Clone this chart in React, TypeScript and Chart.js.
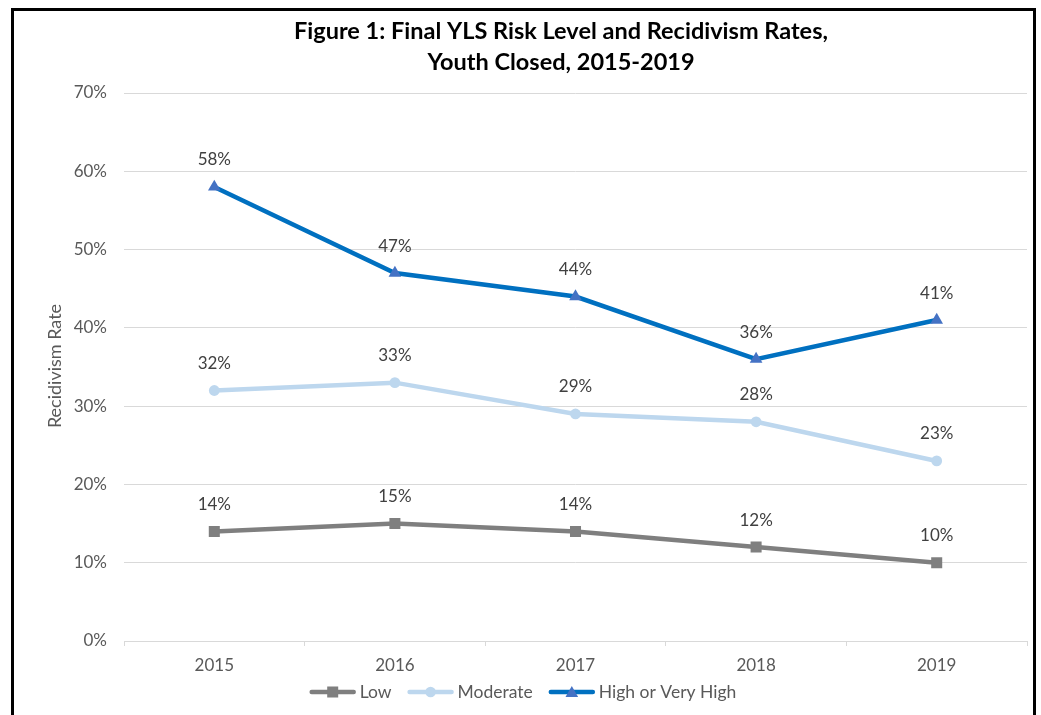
import React, { useEffect, useRef } from "react";
import { Chart, registerables } from "chart.js";

Chart.register(...registerables);

const years = ["2015", "2016", "2017", "2018", "2019"];
const lowValues = [14, 15, 14, 12, 10];
const moderateValues = [32, 33, 29, 28, 23];
const highValues = [58, 47, 44, 36, 41];
const yTicks = [0, 10, 20, 30, 40, 50, 60, 70];
const titleLines = ["Figure 1: Final YLS Risk Level and Recidivism Rates,", "Youth Closed, 2015-2019"];
const yTitle = "Recidivism Rate";

const FONT = "Lato, 'Open Sans', sans-serif";

const framePlugin = {
  id: "frame",
  beforeDraw(chart: any) {
    const ctx = chart.ctx;
    ctx.save();
    ctx.fillStyle = "#ffffff";
    ctx.fillRect(0, 0, chart.width, chart.height);
    ctx.strokeStyle = "#000000";
    ctx.lineWidth = 3;
    ctx.strokeRect(12.5, 9.5, 1022, 720);
    ctx.restore();
  },
  afterDraw(chart: any) {
    const ctx = chart.ctx;
    ctx.save();
    // title
    ctx.fillStyle = "#000000";
    ctx.font = `bold 23.5px ${FONT}`;
    ctx.textAlign = "center";
    ctx.textBaseline = "middle";
    ctx.fillText(titleLines[0], 561, 31);
    ctx.fillText(titleLines[1], 561, 62);
    // y title
    ctx.save();
    ctx.translate(55, 366);
    ctx.rotate(-Math.PI / 2);
    ctx.fillStyle = "#595959";
    ctx.font = `18px ${FONT}`;
    ctx.fillText(yTitle, 0, 0);
    ctx.restore();
    // legend
    const items = chart.data.datasets.map((d: any) => d);
    ctx.font = `17.5px ${FONT}`;
    const sample = 46;
    const gapText = 4;
    const gapItem = 16;
    let total = 0;
    const widths = items.map((d: any) => ctx.measureText(d.label).width);
    widths.forEach((w: number, i: number) => {
      total += sample + gapText + w + (i < widths.length - 1 ? gapItem : 0);
    });
    let x = 523 - total / 2;
    const y = 692;
    items.forEach((d: any, i: number) => {
      ctx.strokeStyle = d.borderColor;
      ctx.lineWidth = d.borderWidth;
      ctx.lineCap = "round";
      ctx.beginPath();
      ctx.moveTo(x + 2, y);
      ctx.lineTo(x + sample - 2, y);
      ctx.stroke();
      ctx.fillStyle = d.pointBackgroundColor;
      const cx = x + sample / 2;
      if (d.pointStyle === "rect") {
        ctx.fillRect(cx - 5.5, y - 5.5, 11, 11);
      } else if (d.pointStyle === "circle") {
        ctx.beginPath();
        ctx.arc(cx, y, 5.3, 0, Math.PI * 2);
        ctx.fill();
      } else {
        ctx.beginPath();
        ctx.moveTo(cx, y - 6);
        ctx.lineTo(cx + 6.3, y + 5);
        ctx.lineTo(cx - 6.3, y + 5);
        ctx.closePath();
        ctx.fill();
      }
      ctx.fillStyle = "#595959";
      ctx.textAlign = "left";
      ctx.textBaseline = "middle";
      ctx.fillText(d.label, x + sample + gapText, y);
      x += sample + gapText + widths[i] + gapItem;
    });
    ctx.restore();
  },
  afterDatasetsDraw(chart: any) {
    const ctx = chart.ctx;
    ctx.save();
    ctx.font = `17px ${FONT}`;
    ctx.fillStyle = "#404040";
    ctx.textAlign = "center";
    ctx.textBaseline = "middle";
    chart.data.datasets.forEach((d: any, di: number) => {
      const meta = chart.getDatasetMeta(di);
      meta.data.forEach((pt: any, i: number) => {
        ctx.fillText(d.data[i] + "%", pt.x, pt.y - 27);
      });
    });
    ctx.restore();
  },
};

export default function App() {
  const ref = useRef<HTMLCanvasElement>(null);
  useEffect(() => {
    if (!ref.current) return;
    const chart = new Chart(ref.current, {
      type: "line",
      data: {
        labels: years,
        datasets: [
          {
            label: "Low",
            data: lowValues,
            borderColor: "#7F7F7F",
            backgroundColor: "#7F7F7F",
            pointBackgroundColor: "#7F7F7F",
            pointBorderColor: "#7F7F7F",
            borderWidth: 4.5,
            pointStyle: "rect",
            pointRadius: 7.8,
            pointBorderWidth: 0,
            tension: 0,
          },
          {
            label: "Moderate",
            data: moderateValues,
            borderColor: "#BDD7EE",
            backgroundColor: "#BDD7EE",
            pointBackgroundColor: "#BDD7EE",
            pointBorderColor: "#BDD7EE",
            borderWidth: 4.5,
            pointStyle: "circle",
            pointRadius: 5.4,
            pointBorderWidth: 0,
            tension: 0,
          },
          {
            label: "High or Very High",
            data: highValues,
            borderColor: "#0070C0",
            backgroundColor: "#4472C4",
            pointBackgroundColor: "#4472C4",
            pointBorderColor: "#4472C4",
            borderWidth: 4.5,
            pointStyle: "triangle",
            pointRadius: 7.3,
            pointBorderWidth: 0,
            tension: 0,
          },
        ],
      },
      options: {
        responsive: false,
        animation: false,
        layout: { padding: { left: 0, right: 14, top: 93, bottom: 0 } },
        plugins: {
          legend: { display: false },
          title: { display: false },
          tooltip: { enabled: false },
        },
        scales: {
          x: {
            offset: true,
            grid: {
              offset: true,
              drawOnChartArea: false,
              drawTicks: true,
              tickLength: 5,
              color: "#D9D9D9",
            },
            border: { display: true, color: "#D9D9D9", width: 1 },
            ticks: {
              color: "#595959",
              font: { family: FONT, size: 17 },
              padding: 9,
              maxRotation: 0,
            },
            afterFit(scale: any) {
              scale.height = 74;
            },
          },
          y: {
            min: 0,
            max: 70,
            afterBuildTicks(scale: any) {
              scale.ticks = yTicks.map((v) => ({ value: v }));
            },
            grid: { color: "#D9D9D9", drawTicks: false, lineWidth: 1 },
            border: { display: false },
            ticks: {
              color: "#595959",
              font: { family: FONT, size: 17 },
              padding: 17,
              callback: (v: any) => v + "%",
            },
            afterFit(scale: any) {
              scale.width = 124;
            },
          },
        },
      },
      plugins: [framePlugin],
    });
    return () => chart.destroy();
  }, []);
  return (
    <div style={{ position: "absolute", left: 0, top: 0, width: 1041, height: 715 }}>
      <canvas ref={ref} width={1041} height={715} style={{ width: 1041, height: 715 }} />
    </div>
  );
}
